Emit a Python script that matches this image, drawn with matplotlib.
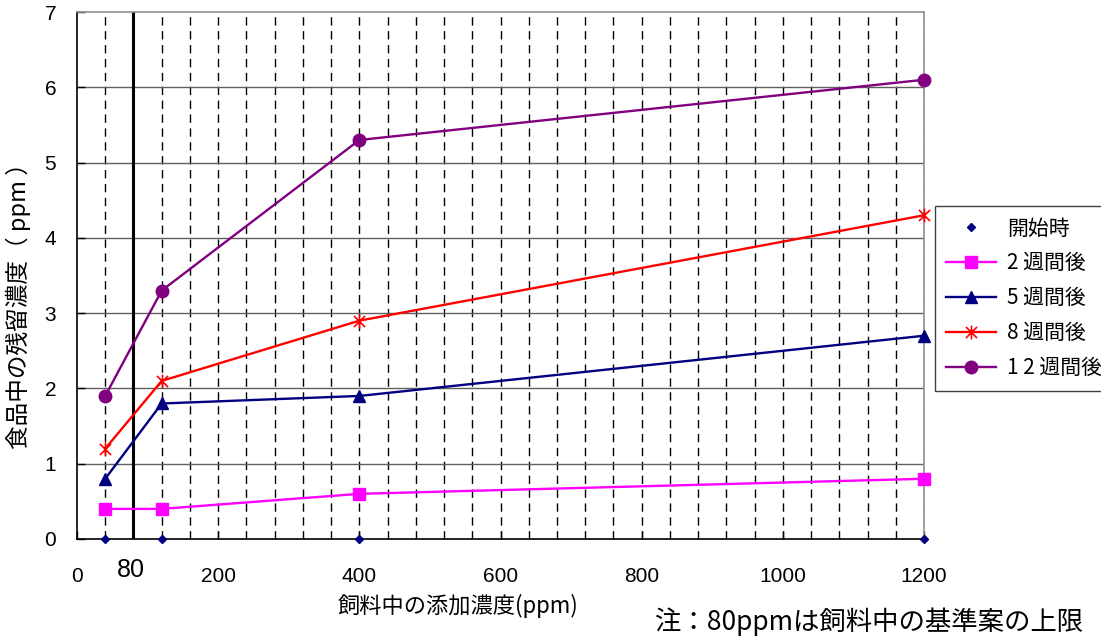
import matplotlib
matplotlib.use("Agg")
import matplotlib.pyplot as plt
from matplotlib.lines import Line2D
from matplotlib.path import Path
from matplotlib.transforms import blended_transform_factory

plt.rcParams['font.family'] = ['Liberation Sans', 'Noto Sans CJK JP', 'DejaVu Sans']

x = [40, 120, 400, 1200]
series_names = ["開始時", "2 週間後", "5 週間後", "8 週間後", "1 2 週間後"]
start = [0, 0, 0, 0]
w2 = [0.4, 0.4, 0.6, 0.8]
w5 = [0.8, 1.8, 1.9, 2.7]
w8 = [1.2, 2.1, 2.9, 4.3]
w12 = [1.9, 3.3, 5.3, 6.1]
xticks = [0, 200, 400, 600, 800, 1000, 1200]
yticks = [0, 1, 2, 3, 4, 5, 6, 7]
limit_x = 80

# Excel-like star marker: X plus vertical bar
star = Path([(-1, -1), (1, 1), (-1, 1), (1, -1), (0, -1.25), (0, 1.25)],
            [Path.MOVETO, Path.LINETO, Path.MOVETO, Path.LINETO, Path.MOVETO, Path.LINETO])

fig = plt.figure(figsize=(11.01, 6.41), dpi=100)
ax = fig.add_axes([77/1101, 1-539/641, (924-77)/1101, (539-12)/641])
ax.set_xlim(0, 1200)
ax.set_ylim(0, 7)

# grid
for gx in range(40, 1201, 40):
    if gx == limit_x:
        continue
    ax.axvline(gx, color='black', lw=1.0, ls=(0, (6, 4)), zorder=1)
for gy in yticks[1:-1]:
    ax.axhline(gy, color='#606060', lw=1.0, zorder=1)
ax.axvline(limit_x, color='black', lw=2.2, zorder=2)

ax.plot(x, start, ls='none', marker='D', ms=4, color='#000080', zorder=5, clip_on=False)
ax.plot(x, w2, color='#FF00FF', lw=1.7, marker='s', ms=9, zorder=4, clip_on=False)
ax.plot(x, w5, color='#000080', lw=1.7, marker='^', ms=9, zorder=4, clip_on=False)
ax.plot(x, w8, color='#FF0000', lw=1.7, marker=star, ms=10, mew=1.2, zorder=4, clip_on=False)
ax.plot(x, w12, color='#800080', lw=1.7, marker='o', ms=9, zorder=4, clip_on=False)

ax.set_xticks(xticks)
ax.set_yticks(yticks)
ax.tick_params(axis='both', direction='in', length=6, labelsize=15, width=1)
ax.tick_params(axis='x', pad=20)
ax.tick_params(axis='y', pad=15)
for s in ['top', 'right']:
    ax.spines[s].set_color('#909090')
    ax.spines[s].set_linewidth(1.2)
for s in ['left', 'bottom']:
    ax.spines[s].set_linewidth(1.2)

trans = blended_transform_factory(ax.transData, ax.transAxes)
ax.text(limit_x - 3, -0.058, str(limit_x), transform=trans, ha='center', va='center', fontsize=18)

fig.text(458/1101, 1-606/641, "飼料中の添加濃度(ppm)", fontsize=16, family=['Noto Sans CJK JP'],
         ha='center', va='center')
fig.text(18/1101, 1-300/641, "食品中の残留濃度（ ppm ）", fontsize=17, family=['Noto Sans CJK JP'],
         ha='center', va='center', rotation=90)

fig.text(1083/1101, 1-622/641, "注：80ppmは飼料中の基準案の上限", ha='right', va='center',
         fontsize=19, family=['Noto Sans CJK JP'])

handles = [
    Line2D([], [], ls='none', marker='D', ms=4, color='#000080'),
    Line2D([], [], color='#FF00FF', lw=1.7, marker='s', ms=9),
    Line2D([], [], color='#000080', lw=1.7, marker='^', ms=9),
    Line2D([], [], color='#FF0000', lw=1.7, marker=star, ms=10, mew=1.2),
    Line2D([], [], color='#800080', lw=1.7, marker='o', ms=9),
]
leg = fig.legend(handles, series_names, loc='upper left',
                 bbox_to_anchor=(935/1101, 1-206/641), fancybox=False,
                 edgecolor='#404040', framealpha=1, prop={'family': ['Noto Sans CJK JP'], 'size': 15},
                 handlelength=2.4, labelspacing=0.62, borderpad=0.55, handletextpad=0.5,
                 borderaxespad=0)
leg.get_frame().set_linewidth(1.0)

fig.savefig("out.png", dpi=100)
